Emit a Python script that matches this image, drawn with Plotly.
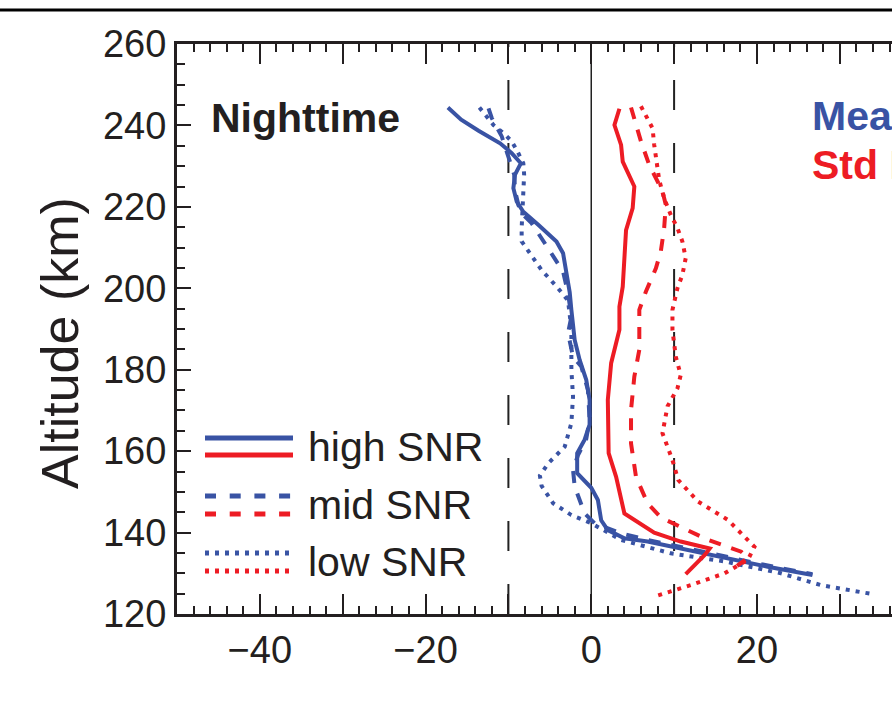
import plotly.graph_objects as go

# ---------------- data ----------------
blue_high_x = [-17.3, -15.7, -13.6, -11.0, -9.6, -8.5, -9.2, -9.4, -9.0, -8.2, -6.4, -4.2, -3.4, -3.0, -2.6, -2.4,
               -2.0, -1.4, -0.6, -0.2, -0.2, -0.8, -1.7, -1.7, 0.0, 0.8, 1.2, 2.0, 4.0, 6.8, 10.8, 16.1, 21.3, 26.7]
blue_high_y = [244.4, 241.4, 238.7, 235.6, 233.2, 230.7, 227.9, 224.6, 221.3, 218.8, 215.6, 211.5, 208.6, 204.1, 199.0,
               194.7, 187.3, 182.4, 177.5, 172.6, 166.5, 162.8, 159.5, 154.6, 151.0, 148.0, 143.0, 140.6, 138.6, 137.8,
               136.1, 133.7, 131.6, 129.6]

blue_mid_x = [-12.4, -12.0, -10.8, -9.8, -9.3, -9.2, -8.8, -8.4, -7.2, -5.2, -3.4, -2.8, -2.4, -2.8, -2.2, -1.2, -0.4,
              -0.2, -0.6, -1.6, -2.2, -2.0, -0.8, 0.4, 3.6, 6.8, 10.8, 16.1, 21.3, 26.7]
blue_mid_y = [244.2, 241.8, 237.3, 231.2, 227.9, 224.0, 220.5, 218.4, 216.0, 209.8, 204.1, 198.8, 193.0, 189.0, 183.2,
              180.8, 175.0, 167.7, 163.0, 159.0, 155.4, 151.3, 144.7, 142.3, 139.8, 138.2, 136.4, 134.0, 131.9, 129.8]

blue_low_x = [-13.5, -11.8, -10.6, -9.6, -8.9, -8.2, -8.1, -8.2, -8.2, -8.4, -8.4, -7.6, -6.0, -4.0, -2.8, -2.4, -2.4,
              -2.2, -2.4, -3.2, -5.2, -6.2, -6.0, -4.6, -2.4, 0.0, 3.6, 9.6, 16.1, 22.9, 27.7, 33.9]
blue_low_y = [244.4, 240.1, 238.1, 236.1, 233.6, 230.7, 227.9, 224.6, 221.3, 214.8, 211.5, 209.1, 204.5, 200.0, 197.0,
              190.0, 180.0, 173.4, 166.9, 161.1, 157.0, 154.0, 151.5, 147.2, 144.3, 142.3, 138.2, 134.9, 132.9, 130.0,
              127.1, 124.9]

red_high_x = [3.4, 2.8, 3.6, 3.8, 5.2, 5.0, 4.2, 4.0, 3.8, 3.4, 3.4, 2.4, 2.0, 2.1, 3.0, 4.0, 7.6, 10.8, 14.3, 13.7, 11.4]
red_high_y = [244.1, 240.1, 235.2, 231.1, 225.0, 219.7, 214.3, 206.6, 200.4, 195.5, 189.8, 181.6, 172.6, 159.5, 153.7,
              144.7, 140.0, 137.8, 136.1, 134.5, 129.8]

red_mid_x = [4.8, 5.2, 6.0, 7.0, 7.8, 8.6, 9.0, 8.8, 8.4, 7.8, 6.6, 5.8, 5.8, 5.2, 4.8, 4.8, 5.4, 6.8, 8.4, 14.1, 18.1,
             18.9, 17.6]
red_mid_y = [244.4, 241.4, 236.1, 230.3, 227.0, 223.8, 220.5, 214.8, 209.1, 204.9, 199.2, 194.7, 184.9, 178.3, 170.1,
             161.9, 153.7, 147.2, 143.7, 138.2, 135.3, 133.8, 131.8]

red_low_x = [6.0, 6.8, 7.4, 7.6, 7.8, 8.2, 8.8, 9.6, 10.4, 11.0, 11.4, 11.0, 10.4, 9.8, 9.8, 10.2, 10.8, 10.4, 9.2, 8.6,
             9.2, 9.8, 10.5, 12.9, 16.5, 19.7, 18.9, 16.1, 12.0, 7.8]
red_low_y = [244.7, 241.8, 239.3, 235.2, 231.9, 226.6, 222.1, 218.0, 214.8, 211.5, 207.4, 203.3, 200.0, 194.7, 189.8,
             183.2, 178.7, 175.4, 171.0, 164.4, 161.1, 157.8, 152.9, 147.6, 143.1, 136.5, 133.3, 130.0, 127.1, 124.4]

ref_lines_x = [-10, 0, 10]
ref_lines_style = ["dash", "solid", "dash"]

legend_labels = ["high SNR", "mid SNR", "low SNR"]
panel_label = "Nighttime"
side_labels = ["Mean Diff", "Std Dev"]

x_tick_vals = [-50, -40, -30, -20, -10, 0, 10, 20, 30]
x_tick_text = ["", "\u221240", "", "\u221220", "", "0", "", "20", ""]
y_tick_vals = [120, 140, 160, 180, 200, 220, 240, 260]

# ---------------- styles ----------------
BLUE = "rgb(57,83,164)"
RED = "rgb(237,28,36)"
NARROW = "Liberation Sans Narrow, Arial Narrow, Liberation Sans, Arial, sans-serif"
REG = "Liberation Sans, Arial, sans-serif"
DASH = "12px,11px"
DOT = "4px,6px"
INK = "#231f20"

W, H = 892, 727
ML, MT, MB, MR = 177, 44, 113, 0
PW, PH = W - ML - MR, H - MT - MB


def px2paper(px, py):
    return (px - ML) / PW, (H - MB - py) / PH


fig = go.Figure()

series = [
    (blue_high_x, blue_high_y, BLUE, "solid"),
    (blue_mid_x, blue_mid_y, BLUE, DASH),
    (blue_low_x, blue_low_y, BLUE, DOT),
    (red_high_x, red_high_y, RED, "solid"),
    (red_mid_x, red_mid_y, RED, DASH),
    (red_low_x, red_low_y, RED, DOT),
]
for xs, ys, col, dash in series:
    fig.add_trace(go.Scatter(x=xs, y=ys, mode="lines", showlegend=False,
                             line=dict(color=col, width=4, dash=dash)))

shapes = []
for xv, st in zip(ref_lines_x, ref_lines_style):
    shapes.append(dict(type="line", xref="x", yref="y", x0=xv, x1=xv, y0=120, y1=260,
                       line=dict(color="#222", width=2 if st == "dash" else 1.5,
                                 dash="30px,33px" if st == "dash" else "solid"),
                       layer="below"))

# top rule of the page (cropped figure above)
x0p, _ = px2paper(0, 0)
_, ytop = px2paper(0, 10)
shapes.append(dict(type="line", xref="paper", yref="paper", x0=x0p, x1=1.0, y0=ytop, y1=ytop,
                   line=dict(color="black", width=3)))

# custom legend
leg_rows_px = [(438, 455), (496, 514), (553, 571)]
leg_dash = ["solid", "11px,13.7px", DOT]
leg_text_y = [447, 505, 562]
annotations = []
for (yb, yr), dsh, lab, ty in zip(leg_rows_px, leg_dash, legend_labels, leg_text_y):
    for yy, col in ((yb, BLUE), (yr, RED)):
        xa, ya = px2paper(205, yy)
        xb, _ = px2paper(293, yy)
        shapes.append(dict(type="line", xref="paper", yref="paper", x0=xa, x1=xb, y0=ya, y1=ya,
                           line=dict(color=col, width=5, dash=dsh)))
    tx, tyy = px2paper(306, ty)
    annotations.append(dict(text=lab, xref="paper", yref="paper", x=tx, y=tyy, xanchor="left",
                            yanchor="middle", showarrow=False,
                            font=dict(family=REG, size=41, color=INK)))

nx, ny = px2paper(209, 118)
annotations.append(dict(text="<b>" + panel_label + "</b>", xref="paper", yref="paper", x=nx, y=ny,
                        xanchor="left", yanchor="middle", showarrow=False,
                        font=dict(family=NARROW, size=41, color=INK)))
for lab, col, yy in zip(side_labels, (BLUE, RED), (116, 165)):
    sx, sy = px2paper(810, yy)
    annotations.append(dict(text="<b>" + lab + "</b>", xref="paper", yref="paper", x=sx, y=sy,
                            xanchor="left", yanchor="middle", showarrow=False,
                            font=dict(family=NARROW, size=41, color=col)))

ax_, ay_ = px2paper(60, 343)
annotations.append(dict(text="Altitude (km)", xref="paper", yref="paper", x=ax_, y=ay_,
                        xanchor="center", yanchor="middle", textangle=-90, showarrow=False,
                        font=dict(family=REG, size=52, color=INK)))

fig.update_layout(
    width=W, height=H,
    margin=dict(l=ML, r=MR, t=MT, b=MB, pad=0),
    paper_bgcolor="white", plot_bgcolor="white",
    shapes=shapes, annotations=annotations,
    xaxis=dict(range=[-50, 36.3], tickvals=x_tick_vals, ticktext=x_tick_text,
               ticks="inside", ticklen=20, tickwidth=2, tickcolor=INK,
               minor=dict(dtick=2, tick0=0, ticks="inside", ticklen=8, tickwidth=1.5, tickcolor=INK),
               showline=True, linewidth=3, linecolor=INK, mirror="allticks",
               showgrid=False, zeroline=False,
               tickfont=dict(family=NARROW, size=38, color=INK)),
    yaxis=dict(range=[120, 260], tickvals=y_tick_vals,
               ticks="inside", ticklen=14, tickwidth=2, tickcolor=INK,
               minor=dict(dtick=5, tick0=120, ticks="inside", ticklen=8, tickwidth=1.5, tickcolor=INK),
               showline=True, linewidth=3, linecolor=INK, mirror=False,
               showgrid=False, zeroline=False,
               tickfont=dict(family=NARROW, size=38, color=INK)),
)

fig.write_html("out.html")
